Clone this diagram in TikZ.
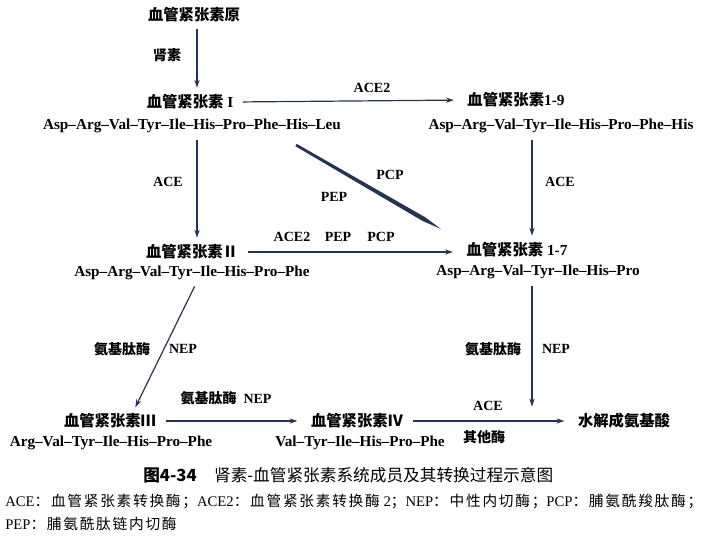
\documentclass[tikz,border=0pt]{standalone}
\usepackage{fontspec}
\setmainfont{Liberation Serif}
\newfontfamily\cjk{Noto Sans CJK SC}
\newfontfamily\notecjk[LetterSpace=12]{Noto Sans CJK SC}
\usetikzlibrary{arrows.meta,calc}

\definecolor{linecol}{RGB}{38,52,82}
\newcommand\zhtxt[1]{{\cjk #1}}
\newcommand\notezh[1]{{\notecjk #1}}

\tikzset{
  angname/.style={inner sep=1pt, font=\fontsize{11.5}{13}\selectfont\bfseries},
  seqtext/.style={inner sep=1pt, font=\fontsize{11.4}{13}\selectfont\bfseries},
  enzyme/.style={inner sep=1pt, font=\fontsize{10.5}{12}\selectfont\bfseries},
  note/.style={inner sep=0pt, anchor=west, font=\fontsize{11}{13}\selectfont},
  arr/.style={draw=linecol, line width=0.9pt, -{Stealth[length=6pt,width=4pt]}, shorten <=4pt, shorten >=4pt},
  longarr/.style={arr, shorten <=6pt, shorten >=9pt}
}

\begin{document}
\begin{tikzpicture}[x=0.75pt,y=-0.75pt]
\useasboundingbox (0,0) rectangle (702,543);

        \coordinate (colA) at (197,0);
        \coordinate (colB) at (532,0);

        % Angiotensine
        \node[angname] (ang0) at (194,15) {\zhtxt{血管紧张素原}};
        \node[angname] (ang1) at (190,102) {\zhtxt{血管紧张素}\ I};
        \node[seqtext] (seq1) at (192,126) {Asp--Arg--Val--Tyr--Ile--His--Pro--Phe--His--Leu};
        \node[angname] (ang19) at (516,100) {\zhtxt{血管紧张素}1-9};
        \node[seqtext] (seq19) at (561,126) {Asp--Arg--Val--Tyr--Ile--His--Pro--Phe--His};
        \node[angname] (ang2) at (192,252) {\zhtxt{血管紧张素Ⅱ}};
        \node[seqtext] (seq2) at (192,273) {Asp--Arg--Val--Tyr--Ile--His--Pro--Phe};
        \node[angname] (ang17) at (517,250) {\zhtxt{血管紧张素}\ 1-7};
        \node[seqtext] (seq17) at (538,272) {Asp--Arg--Val--Tyr--Ile--His--Pro};
        \node[angname] (ang3) at (110,421) {\zhtxt{血管紧张素Ⅲ}};
        \node[seqtext] (seq3) at (111,443) {Arg--Val--Tyr--Ile--His--Pro--Phe};
        \node[angname] (ang4) at (357,421) {\zhtxt{血管紧张素Ⅳ}};
        \node[seqtext] (seq4) at (360,443) {Val--Tyr--Ile--His--Pro--Phe};
        \node[angname] (amino) at (624,421) {\zhtxt{水解成氨基酸}};

        \draw[arr] (colA |- ang0.south) -- (colA |- ang1.north);
        \draw[longarr] (ang1.east) -- (ang19.west);
        \draw[arr] (colA |- seq1.south) -- (colA |- ang2.north);
        \draw[arr] (colB |- seq19.south) -- (colB |- ang17.north);
        \draw[longarr] (ang2.east) -- (ang2.east -| ang17.west);
        \draw[arr] (colA |- seq2.south) -- ($(ang3.north)+(23,0)$);
        \draw[longarr] (ang3.east) -- (ang4.west);
        \draw[arr] (colB |- seq17.south) -- (colB |- amino.north);
        \draw[longarr] (ang4.east) -- (amino.west);

        % Keil PEP/PCP
        \coordinate (wA) at (296,145);
        \coordinate (wB) at (441,229);
        \fill[linecol] ($(wA)!1pt!90:(wB)$) -- ($(wA)!0.88!(wB)!1.7pt!90:(wB)$) -- (wB)
              -- ($(wA)!0.88!(wB)!1.7pt!-90:(wB)$) -- ($(wA)!1pt!-90:(wB)$) -- cycle;

        % Enzyme
        \node[enzyme] (eRenin) at (167,55) {\zhtxt{肾素}};
        \node[enzyme] (eAceTwoA) at (372,88) {ACE2};
        \node[enzyme] (eAceL) at (168,182) {ACE};
        \node[enzyme] (ePcpD) at (390,175) {PCP};
        \node[enzyme] (ePepD) at (334,197) {PEP};
        \node[enzyme] (eAceR) at (560,182) {ACE};
        \node[enzyme] (eAceTwoB) at (292,237) {ACE2};
        \node[enzyme] (ePepH) at (338,237) {PEP};
        \node[enzyme] (ePcpH) at (381,237) {PCP};
        \node[enzyme] (eAminoL) at (122,349) {\zhtxt{氨基肽酶}};
        \node[enzyme] (eNepL) at (183,349) {NEP};
        \node[enzyme] (eMid) at (226,398) {\zhtxt{氨基肽酶}\ \ NEP};
        \node[enzyme] (eAminoR) at (493,349) {\zhtxt{氨基肽酶}};
        \node[enzyme] (eNepR) at (556,349) {NEP};
        \node[enzyme] (eAceB) at (488,406) {ACE};
        \node[enzyme] (eOther) at (484,437) {\zhtxt{其他酶}};

        % Bildunterschrift
        \node[inner sep=0pt, anchor=west, font=\fontsize{12.5}{14}\selectfont\cjk] (caption) at (143,475)
              {{\bfseries 图4-34}\hspace{13pt}肾素-血管紧张素系统成员及其转换过程示意图};
        \node[note] (noteA) at (5,501)
              {ACE\notezh{：血管紧张素转换酶；}ACE2\notezh{：血管紧张素转换酶} 2\notezh{；}NEP\notezh{：中性内切酶；}PCP\notezh{：脯氨酰羧肽酶；}};
        \node[note] (noteB) at (5,524) {PEP\notezh{：脯氨酰肽链内切酶}};
\end{tikzpicture}
\end{document}
